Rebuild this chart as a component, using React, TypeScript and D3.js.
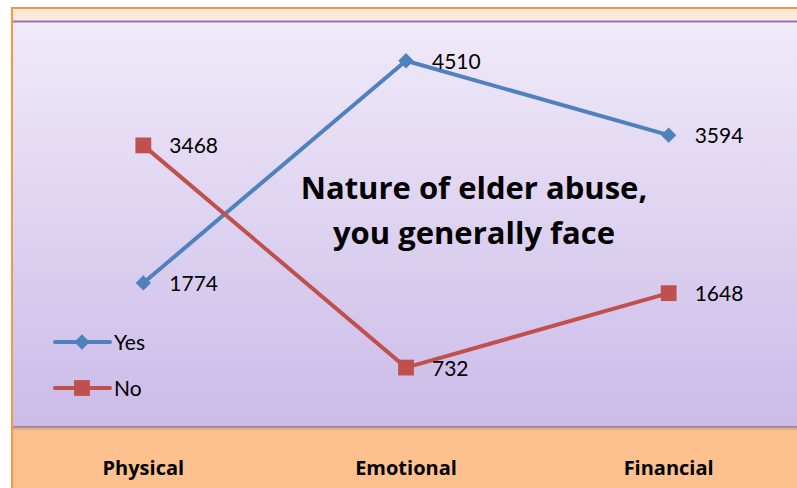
import * as d3 from "d3";

const categories = ["Physical", "Emotional", "Financial"];
const yesValues = [1774, 4510, 3594];
const noValues = [3468, 732, 1648];
const titleLines = ["Nature of elder abuse,", "you generally face"];

const width = 797;
const height = 488;
const plotLeft = 12;
const plotRight = 800;
const plotTop = 21;
const plotBottom = 427;
const font = "Lato, 'Open Sans', sans-serif";
const boldFont = "'Open Sans', Lato, sans-serif";

export default function App() {
    const x = d3.scaleBand(categories, [plotLeft, plotRight]);
    const cx = (c: string) => (x(c) ?? 0) + x.bandwidth() / 2;
    const y = d3.scaleLinear([0, 5000], [plotBottom, plotTop]);
    const line = d3
        .line<number>()
        .x((_d, i) => cx(categories[i]))
        .y((d) => y(d));
    const diamond = d3.symbol(d3.symbolDiamond2, 150)()!;
    const square = d3.symbol(d3.symbolSquare, 250)()!;

    const series = [
        { name: "Yes", values: yesValues, color: "#4F81BD", marker: diamond },
        { name: "No", values: noValues, color: "#C0504D", marker: square },
    ];

    return (
        <svg
            width={width}
            height={height}
            style={{ position: "absolute", left: 0, top: 0 }}
        >
            <defs>
                <linearGradient id="plotBg" x1="0" y1="0" x2="0" y2="1">
                    <stop offset="0" stopColor="#F0EAF9" />
                    <stop offset="1" stopColor="#CBBBE8" />
                </linearGradient>
                <linearGradient id="shadow" x1="0" y1="0" x2="0" y2="1">
                    <stop offset="0" stopColor="#8A7A80" />
                    <stop offset="1" stopColor="#FBC08E" stopOpacity="0" />
                </linearGradient>
            </defs>
            <rect x={0} y={0} width={width} height={height} fill="#FFFFFF" />
            {/* outer frame */}
            <rect x={12} y={8} width={800} height={490} fill="#FCC18F" stroke="#F79646" strokeWidth={2} />
            <rect x={13} y={9} width={800} height={12} fill="#FDE9D9" />
            {/* plot area */}
            <rect x={13} y={plotTop} width={800} height={plotBottom - plotTop} fill="url(#plotBg)" />
            <line x1={13} x2={800} y1={plotTop + 0.5} y2={plotTop + 0.5} stroke="#8F78AE" strokeWidth={2} />
            <rect x={13} y={plotBottom - 1} width={800} height={6} fill="url(#shadow)" />
            <line x1={13} x2={800} y1={plotBottom - 0.5} y2={plotBottom - 0.5} stroke="#8C8A96" strokeWidth={1} />

            {/* category labels */}
            {categories.map((c) => (
                <text
                    key={c}
                    x={cx(c)}
                    y={475}
                    textAnchor="middle"
                    fontFamily={boldFont}
                    fontWeight="bold"
                    fontSize={20}
                    fill="#000"
                >
                    {c}
                </text>
            ))}

            {/* title */}
            {titleLines.map((t, i) => (
                <text
                    key={t}
                    x={474}
                    y={199 + i * 45}
                    textAnchor="middle"
                    fontFamily={boldFont}
                    fontWeight="bold"
                    fontSize={31}
                    fill="#000"
                >
                    {t}
                </text>
            ))}

            {series.map((s) => (
                <g key={s.name}>
                    <path d={line(s.values) || ""} fill="none" stroke={s.color} strokeWidth={4} />
                    {s.values.map((v, i) => (
                        <g key={i}>
                            <path
                                d={s.marker}
                                transform={`translate(${cx(categories[i])},${y(v)})`}
                                fill={s.color}
                            />
                            <text
                                x={cx(categories[i]) + 26}
                                y={y(v) + 8}
                                fontFamily={font}
                                fontSize={21}
                                fill="#000"
                            >
                                {v}
                            </text>
                        </g>
                    ))}
                </g>
            ))}

            {/* legend */}
            {series.map((s, i) => (
                <g key={s.name} transform={`translate(0,${342 + i * 46})`}>
                    <line x1={55} x2={110} y1={0} y2={0} stroke={s.color} strokeWidth={4} strokeLinecap="round" />
                    <path d={s.marker} transform="translate(82,0)" fill={s.color} />
                    <text x={114} y={8} fontFamily={font} fontSize={21} fill="#000">
                        {s.name}
                    </text>
                </g>
            ))}
        </svg>
    );
}
